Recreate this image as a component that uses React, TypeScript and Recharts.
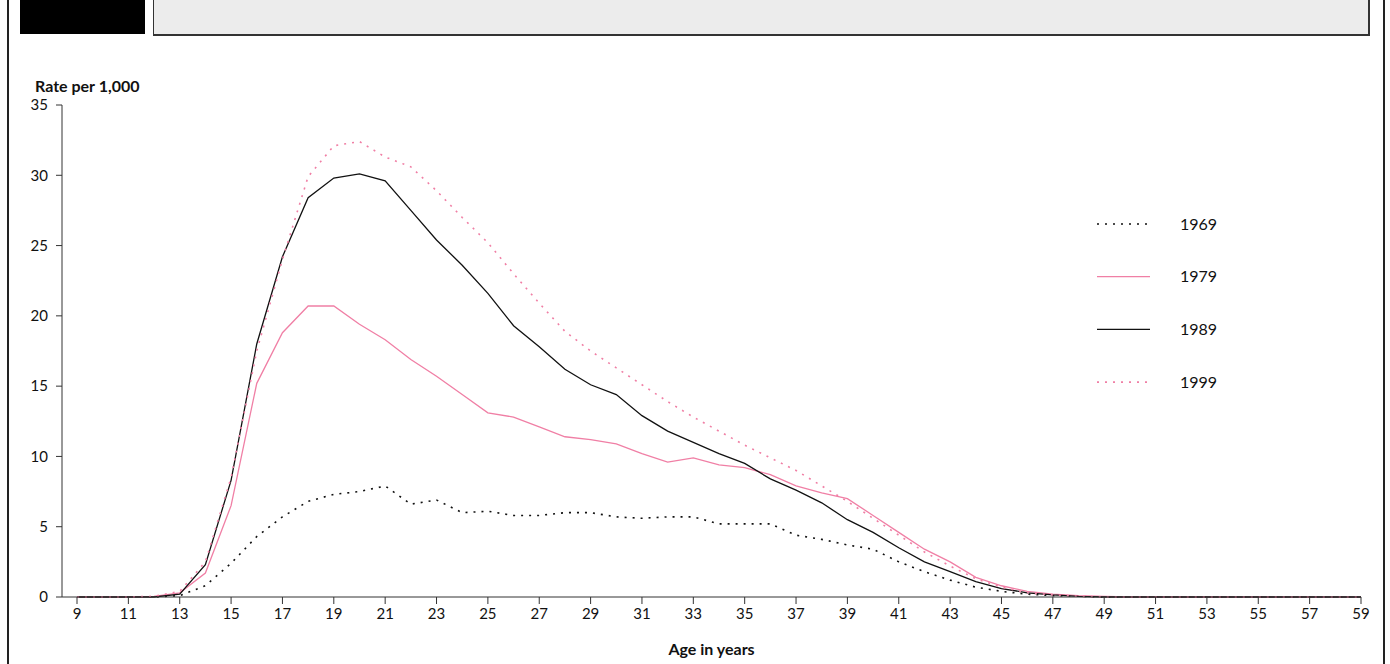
import { LineChart, Line, XAxis, YAxis } from 'recharts';

const ages = [
  9, 10, 11, 12, 13, 14, 15, 16, 17, 18, 19, 20, 21, 22, 23, 24, 25, 26, 27, 28, 29, 30, 31, 32, 33, 34,
  35, 36, 37, 38, 39, 40, 41, 42, 43, 44, 45, 46, 47, 48, 49, 50, 51, 52, 53, 54, 55, 56, 57, 58, 59,
];

const rate1969 = [
  0, 0, 0, 0, 0.1, 0.8, 2.4, 4.3, 5.7, 6.8, 7.3, 7.5, 7.9, 6.6, 6.9, 6.0, 6.1, 5.8, 5.8, 6.0, 6.0, 5.7,
  5.6, 5.7, 5.7, 5.2, 5.2, 5.2, 4.4, 4.1, 3.7, 3.4, 2.5, 1.8, 1.2, 0.7, 0.4, 0.2, 0.1, 0.05,
  0, 0, 0, 0, 0, 0, 0, 0, 0, 0, 0,
];
const rate1979 = [
  0, 0, 0, 0.05, 0.3, 1.7, 6.5, 15.2, 18.8, 20.7, 20.7, 19.4, 18.3, 16.9, 15.7, 14.4, 13.1, 12.8, 12.1,
  11.4, 11.2, 10.9, 10.2, 9.6, 9.9, 9.4, 9.2, 8.7, 7.9, 7.4, 7.0, 5.8, 4.6, 3.4, 2.5, 1.4, 0.8, 0.4, 0.2,
  0.1, 0.05, 0, 0, 0, 0, 0, 0, 0, 0, 0, 0,
];
const rate1989 = [
  0, 0, 0, 0, 0.2, 2.3, 8.3, 18.0, 24.2, 28.4, 29.8, 30.1, 29.6, 27.5, 25.4, 23.6, 21.6, 19.3, 17.8,
  16.2, 15.1, 14.4, 12.9, 11.8, 11.0, 10.2, 9.5, 8.4, 7.6, 6.7, 5.5, 4.6, 3.5, 2.5, 1.8, 1.1, 0.6, 0.3,
  0.15, 0.05, 0, 0, 0, 0, 0, 0, 0, 0, 0, 0, 0,
];
const rate1999 = [
  0, 0, 0, 0.05, 0.4, 2.5, 8.5, 17.5, 24.0, 29.9, 32.1, 32.4, 31.3, 30.6, 28.9, 27.0, 25.2, 23.0, 20.9,
  18.9, 17.5, 16.3, 15.1, 13.9, 12.8, 11.8, 10.8, 9.9, 9.0, 7.9, 6.8, 5.6, 4.4, 3.2, 2.2, 1.3, 0.7, 0.3,
  0.15, 0.05, 0, 0, 0, 0, 0, 0, 0, 0, 0, 0, 0,
];

const xTicks = [9, 11, 13, 15, 17, 19, 21, 23, 25, 27, 29, 31, 33, 35, 37, 39, 41, 43, 45, 47, 49, 51, 53, 55, 57, 59];
const yTicks = [0, 5, 10, 15, 20, 25, 30, 35];

const data = ages.map((age, i) => ({
  age,
  y1969: rate1969[i],
  y1979: rate1979[i],
  y1989: rate1989[i],
  y1999: rate1999[i],
}));

const PINK = '#f07fa5';
const FONT = 'Lato, "Open Sans", sans-serif';

const seriesStyle = [
  { key: 'y1969', name: '1969', color: '#111', dash: '2 6', width: 1.6 },
  { key: 'y1979', name: '1979', color: PINK, dash: undefined, width: 1.3 },
  { key: 'y1989', name: '1989', color: '#111', dash: undefined, width: 1.3 },
  { key: 'y1999', name: '1999', color: PINK, dash: '2 6', width: 1.6 },
];

// legend drawn beside the plot, not through recharts (it would shrink the plot)
function LegendBox() {
  return (
    <svg width={200} height={220} style={{ position: 'absolute', left: 1095, top: 196 }}>
      {seriesStyle.map((s, i) => (
        <g key={s.key}>
          <line
            x1={2}
            x2={55}
            y1={28 + i * 52.7}
            y2={28 + i * 52.7}
            stroke={s.color}
            strokeWidth={s.width}
            strokeDasharray={s.dash}
          />
          <text x={85} y={28 + i * 52.7} dy="0.35em" fontSize={16} fontFamily={FONT} fill="#111">
            {s.name}
          </text>
        </g>
      ))}
    </svg>
  );
}

export default function App() {
  return (
    <div style={{ position: 'absolute', left: 0, top: 0, width: 1390, height: 664, background: '#fff', overflow: 'hidden' }}>
      <div style={{ position: 'absolute', left: 7, top: 0, width: 1.5, height: 664, background: '#222' }} />
      <div style={{ position: 'absolute', left: 1383, top: 0, width: 1.5, height: 664, background: '#222' }} />
      <div style={{ position: 'absolute', left: 20, top: 0, width: 125, height: 34, background: '#000' }} />
      <div
        style={{
          position: 'absolute',
          left: 153,
          top: -2,
          width: 1214,
          height: 35,
          background: '#ececec',
          borderLeft: '1px solid #333',
          borderTop: '1px solid #333',
          borderRight: '2px solid #333',
          borderBottom: '2px solid #333',
        }}
      />
      <div style={{ position: 'absolute', left: 35, top: 76, fontFamily: FONT, fontWeight: 700, fontSize: 16, color: '#111' }}>
        Rate per 1,000
      </div>
      <div style={{ position: 'absolute', left: 0, top: 0 }}>
        <LineChart width={1390} height={664} data={data} margin={{ top: 105, right: 29, bottom: 0, left: 0 }}>
          <XAxis
            dataKey="age"
            type="number"
            domain={[9, 59]}
            ticks={xTicks}
            interval={0}
            padding={{ left: 15, right: 0 }}
            height={67}
            tickSize={7}
            tickMargin={4}
            stroke="#333"
            tick={{ fill: '#111', fontSize: 15, fontFamily: FONT }}
            label={{ value: 'Age in years', position: 'insideBottom', offset: 9, fill: '#111', fontSize: 16, fontWeight: 700, fontFamily: FONT }}
          />
          <YAxis
            type="number"
            domain={[0, 35]}
            ticks={yTicks}
            interval={0}
            width={62}
            tickSize={6}
            tickMargin={8}
            stroke="#333"
            tick={{ fill: '#111', fontSize: 15, fontFamily: FONT }}
          />
          {seriesStyle.map((s) => (
            <Line
              key={s.key}
              type="linear"
              dataKey={s.key}
              name={s.name}
              stroke={s.color}
              strokeWidth={s.width}
              strokeDasharray={s.dash}
              dot={false}
              activeDot={false}
              isAnimationActive={false}
            />
          ))}
        </LineChart>
      </div>
      <LegendBox />
    </div>
  );
}
